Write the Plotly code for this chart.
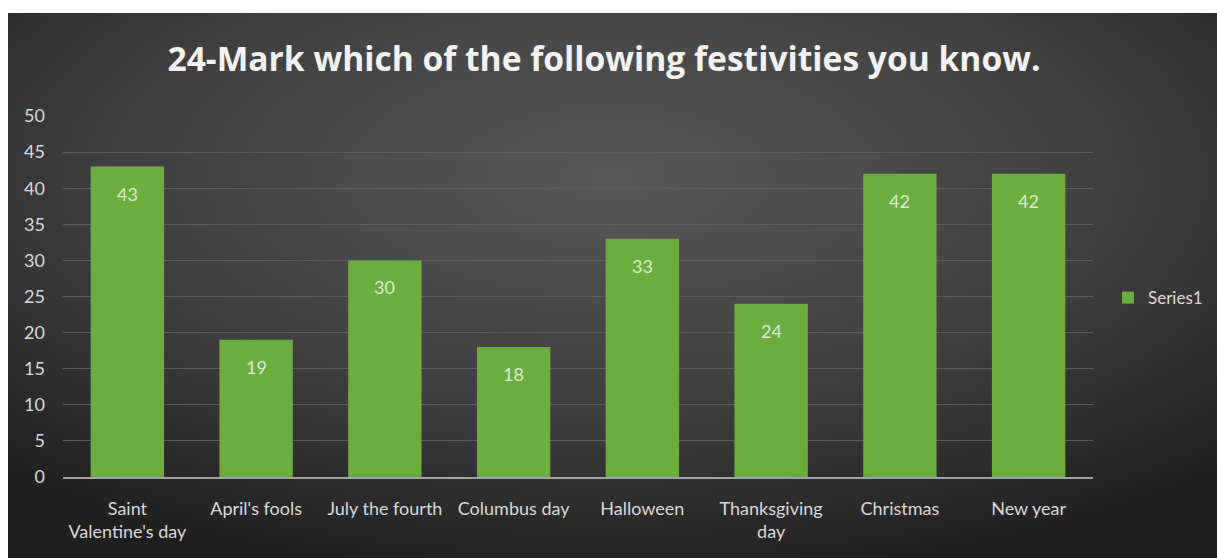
import base64
import plotly.graph_objects as go

categories = ["Saint<br>Valentine's day", "April's fools", "July the fourth", "Columbus day",
              "Halloween", "Thanksgiving<br>day", "Christmas", "New year"]
values = [43, 19, 30, 18, 33, 24, 42, 42]
series_name = "Series1"
title_text = "24-Mark which of the following festivities you know."
y_ticks = [0, 5, 10, 15, 20, 25, 30, 35, 40, 45, 50]

W, H = 1217, 558
L, R, T, B = 63, 124, 116, 81
pw, ph = W - L - R, H - T - B

svg = """<svg xmlns='http://www.w3.org/2000/svg' width='1209' height='545' viewBox='0 0 1209 545' preserveAspectRatio='none'>
<defs><radialGradient id='g' cx='50%' cy='30%' r='75%'>
<stop offset='0' stop-color='#585858'/><stop offset='0.55' stop-color='#3f3f3f'/><stop offset='1' stop-color='#1f1f1f'/>
</radialGradient></defs><rect width='1209' height='545' fill='url(#g)'/></svg>"""
src = "data:image/svg+xml;base64," + base64.b64encode(svg.encode()).decode()

font = "Lato, 'Open Sans', sans-serif"

fig = go.Figure()
fig.add_trace(go.Bar(
    x=categories, y=values, name=series_name,
    marker=dict(color="#6cad40", line=dict(width=0)),
    width=0.57, showlegend=True,
))

for c, v in zip(categories, values):
    fig.add_annotation(x=c, y=v, text=str(v), showarrow=False, yshift=-27,
                       font=dict(family=font, size=18, color="#dcebd0"))

x0 = (8 - L) / pw
x1 = (W - L) / pw
ytop = (H - B - 13) / ph
ybot = -B / ph

fig.update_layout(
    width=W, height=H,
    margin=dict(l=L, r=R, t=T, b=B, pad=0, autoexpand=False),
    paper_bgcolor="white",
    plot_bgcolor="rgba(0,0,0,0)",
    images=[dict(source=src, xref="paper", yref="paper", x=x0, y=ytop,
                 sizex=x1 - x0, sizey=ytop - ybot, sizing="stretch",
                 layer="below", xanchor="left", yanchor="top")],
    title=dict(text="<b>" + title_text + "</b>", x=604 / W, xanchor="center",
               y=1 - 59 / H, yanchor="middle",
               font=dict(family="'Open Sans', sans-serif", size=33.6, color="#f2f2f2")),
    xaxis=dict(showgrid=False, tickfont=dict(family=font, size=18, color="#d9d9d9"),
               showline=True, linecolor="#a0a0a0", linewidth=2, ticks="",
               ticklabelstandoff=14,
               range=[-0.5, len(categories) - 0.5]),
    yaxis=dict(range=[0, 50], tickvals=y_ticks, showgrid=True, gridcolor="#5c5c5c",
               gridwidth=1, zeroline=False, ticks="", ticklabelstandoff=17,
               tickfont=dict(family=font, size=18, color="#d9d9d9")),
    legend=dict(x=(1108 - L) / pw, y=(H - B - 298) / ph, xanchor="left", yanchor="middle",
                font=dict(family=font, size=17, color="#d9d9d9"),
                bgcolor="rgba(0,0,0,0)", itemwidth=30),
    bargap=0.43,
)

fig.write_html("out.html")
